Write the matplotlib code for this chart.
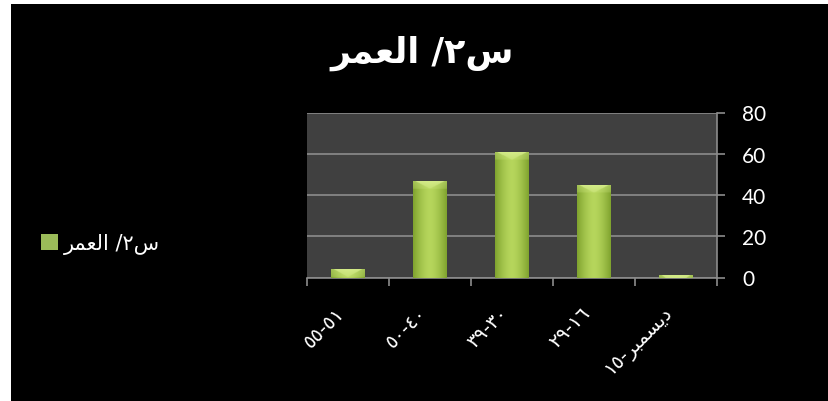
import numpy as np
import matplotlib
matplotlib.use("Agg")
import matplotlib.pyplot as plt
from matplotlib.patches import Rectangle
from matplotlib.colors import to_rgb

plt.rcParams['font.family'] = ['Lato', 'DejaVu Sans']

# Arabic strings are stored already shaped (presentation forms) in visual order,
# since matplotlib does no bidi/shaping of its own.
title = "\ufeae\ufee4\ufecc\ufedf\ufe8d /\u0662\ufeb1"          # س٢/ العمر
series_name = title
categories = [
    "\u0665\u0665-\u0665\u0661",                                   # ٥٥-٥١
    "\u0665\u0660-\u0664\u0660",                                   # ٥٠-٤٠
    "\u0663\u0669-\u0663\u0660",                                   # ٣٩-٣٠
    "\u0662\u0669-\u0661\u0666",                                   # ٢٩-١٦
    "\u0661\u0665-\ufeae\ufe92\ufee4\ufeb4\ufef3\ufea9",           # ١٥-ديسمبر
]
values = [4, 47, 61, 45, 1]
yticks = [0, 20, 40, 60, 80]

W, H = 829, 402
fig = plt.figure(figsize=(W / 100, H / 100), dpi=100, facecolor='white')
# black chart area
fig.patches.append(Rectangle((11 / W, 0), 1 - 11 / W, 1 - 5 / H,
                             transform=fig.transFigure, facecolor='black',
                             edgecolor='none', zorder=-5))

ax = fig.add_axes([307 / W, 1 - 278.5 / H, 410 / W, 165 / H])
ax.set_facecolor('#404040')

x = np.arange(len(categories))
bw = 0.41
bars = ax.bar(x, values, width=bw, color='#9bbb59', zorder=2, label=series_name)

# give each bar a rounded-looking gradient with a lighter bevelled top
edge = np.array(to_rgb('#7fa32e'))
mid = np.array(to_rgb('#b6d65c'))
cap = np.array(to_rgb('#d8ee8e'))
nx, ny = 60, 200
u = np.linspace(-1, 1, nx)
prof = 1 - np.abs(u) ** 1.6
row = edge[None, :] + (mid - edge)[None, :] * prof[:, None]
cap_h = 3.6  # data units
for b, v in zip(bars, values):
    x0 = b.get_x()
    x1 = x0 + b.get_width()
    ys = np.linspace(0, v, ny)
    img = np.repeat(row[None, :, :], ny, axis=0)
    depth = (v - ys) / cap_h  # 0 at the top, 1 at the bottom of the cap
    for i, d in enumerate(depth):
        if d < 1:
            # V-shaped light wedge that narrows towards the bottom of the cap
            inside = np.abs(u) < (1 - d) * 0.85
            w = np.where(inside, 0.9, 0.4) * (1 - 0.5 * d)
            img[i] = img[i] * (1 - w[:, None]) + cap[None, :] * w[:, None]
    ax.imshow(img, extent=(x0, x1, 0, v), origin='lower', aspect='auto',
              interpolation='bilinear', zorder=3)

ax.set_xlim(-0.5, len(categories) - 0.5)
ax.set_ylim(0, 80)
ax.set_yticks(yticks)
ax.yaxis.tick_right()
ax.grid(axis='y', color='#8c8c8c', linewidth=1.2)
ax.set_axisbelow(True)

ax.set_xticks(np.arange(len(categories) + 1) - 0.5)
ax.set_xticklabels([])
ax.set_xticks(x, minor=True)
ax.set_xticklabels(categories, minor=True, rotation=45, ha='right', va='top',
                   fontsize=14, color='white', family='DejaVu Sans')
ax.tick_params(axis='x', which='minor', length=0, pad=18)
ax.tick_params(axis='x', which='major', length=6, width=1.2, color='#8c8c8c',
               direction='out')
ax.tick_params(axis='y', length=6, width=1.2, color='#8c8c8c', direction='out',
               pad=12, labelsize=15, labelcolor='white')

for s in ['top', 'left']:
    ax.spines[s].set_visible(False)
for s in ['bottom', 'right']:
    ax.spines[s].set_color('#8c8c8c')
    ax.spines[s].set_linewidth(1.2)

fig.text(422 / W, 1 - 53 / H, title, ha='center', va='center', fontsize=25,
         fontweight='bold', color='white', family='DejaVu Sans')

leg = fig.legend(handles=[bars], labels=[series_name], loc='center left',
                 bbox_to_anchor=(31 / W, 1 - 245 / H), frameon=False,
                 borderpad=0, handlelength=0.8, handleheight=0.8,
                 handletextpad=0.3, prop={'family': 'DejaVu Sans', 'size': 15})
for t in leg.get_texts():
    t.set_color('white')

fig.savefig('out.png', dpi=100, facecolor=fig.get_facecolor())
